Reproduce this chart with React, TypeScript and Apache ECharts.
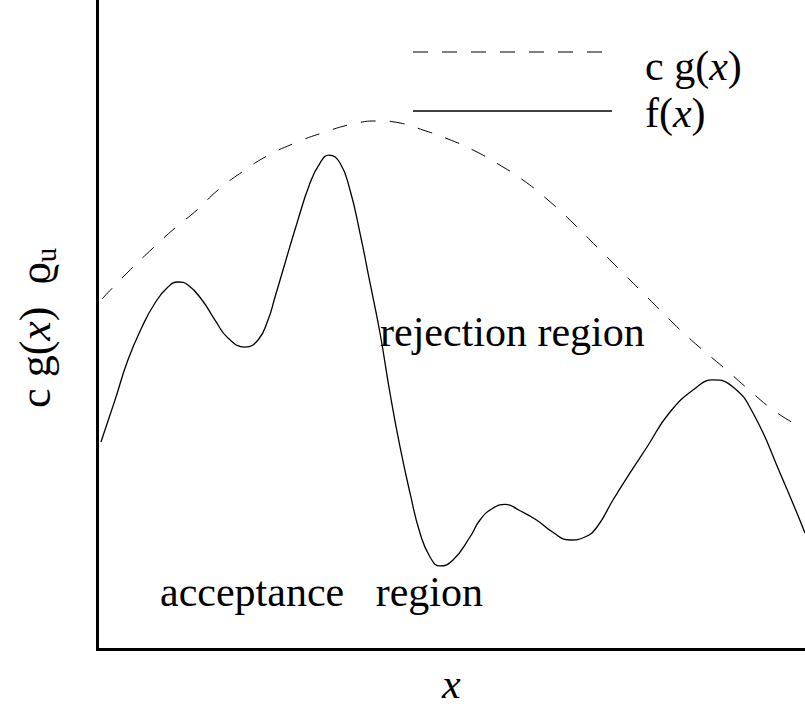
import React, { useEffect, useRef } from 'react';
import * as echarts from 'echarts';

// f(x): target density (solid curve)
const fX = [0.049, 0.247, 0.431, 0.629, 0.813, 0.996, 1.138, 1.279, 1.477, 1.661, 1.845, 2.085, 2.269, 2.41, 2.509, 2.622, 2.82, 3.004, 3.145, 3.272, 3.428, 3.569, 3.71, 3.852, 3.993, 4.134, 4.276, 4.417, 4.558, 4.7, 4.841, 5.025, 5.265, 5.406, 5.583, 5.767, 5.965, 6.205, 6.431, 6.678, 6.89, 7.06, 7.286, 7.527, 7.767, 8.092, 8.473, 8.699, 8.982, 9.265, 9.647, 10.0];
const fY = [3.195, 3.84, 4.46, 4.965, 5.335, 5.58, 5.658, 5.612, 5.381, 5.073, 4.796, 4.657, 4.765, 5.073, 5.427, 5.843, 6.567, 7.182, 7.49, 7.613, 7.49, 7.074, 6.412, 5.643, 4.873, 3.949, 3.118, 2.41, 1.794, 1.424, 1.286, 1.378, 1.732, 1.994, 2.171, 2.233, 2.14, 1.994, 1.809, 1.686, 1.732, 1.886, 2.302, 2.718, 3.118, 3.657, 4.042, 4.15, 4.042, 3.641, 2.718, 1.794];

// c g(x): scaled envelope (dashed curve)
const gX = [0.064, 0.431, 0.784, 1.095, 1.406, 1.703, 2.042, 2.396, 2.792, 3.173, 3.64, 3.965, 4.276, 4.601, 4.954, 5.307, 5.661, 6.014, 6.367, 6.721, 7.074, 7.428, 7.781, 8.134, 8.488, 8.841, 9.194, 9.548, 9.859];
const gY = [5.397, 5.812, 6.181, 6.489, 6.767, 7.074, 7.351, 7.598, 7.798, 7.952, 8.099, 8.137, 8.106, 7.998, 7.86, 7.691, 7.475, 7.228, 6.921, 6.567, 6.181, 5.797, 5.412, 5.027, 4.673, 4.349, 4.011, 3.688, 3.472];

const SERIF = 'Liberation Serif, DejaVu Serif, serif';
const FS = 42;

const richBase = {
  r: { fontFamily: SERIF, fontSize: FS, lineHeight: 48, fill: '#000', color: '#000' },
  i: { fontFamily: SERIF, fontSize: FS, lineHeight: 48, fontStyle: 'italic', fill: '#000', color: '#000' },
};

const richAxis = {
  r: { fontFamily: SERIF, fontSize: 44, lineHeight: 50, color: '#000' },
  i: { fontFamily: SERIF, fontSize: 44, lineHeight: 50, fontStyle: 'italic', color: '#000' },
  s: { fontFamily: SERIF, fontSize: 29, lineHeight: 20, verticalAlign: 'bottom', color: '#000' },
};

export default function App() {
  const ref = useRef<HTMLDivElement>(null);

  useEffect(() => {
    const chart = echarts.init(ref.current!, null, { renderer: 'svg' });
    const axisLine = { show: true, onZero: false, lineStyle: { color: '#000', width: 3, cap: 'square' } };
    chart.setOption({
      animation: false,
      backgroundColor: '#fff',
      textStyle: { fontFamily: SERIF },
      grid: { left: 97.5, top: 0, width: 707.5, height: 649.5 },
      xAxis: {
        type: 'value', min: 0, max: 10,
        axisLine, axisTick: { show: false }, axisLabel: { show: false }, splitLine: { show: false },
        name: 'x', nameLocation: 'middle', nameGap: 13,
        nameTextStyle: { fontFamily: SERIF, fontStyle: 'italic', fontSize: FS, color: '#000' },
      },
      yAxis: {
        type: 'value', min: 0, max: 10,
        axisLine, axisTick: { show: false }, axisLabel: { show: false }, splitLine: { show: false },
        name: '{r|c g(}{i|x}{r|)  ϱ}{s|u}', nameLocation: 'middle', nameRotate: 90, nameGap: 37,
        nameTextStyle: { color: '#000', fontFamily: SERIF, fontSize: 44, padding: [0, 6, 0, 0], rich: richAxis },
      },
      series: [
        {
          type: 'line', name: 'c g(x)', data: gX.map((x, k) => [x, gY[k]]),
          smooth: 0.5, symbol: 'none', showSymbol: false,
          lineStyle: { color: '#000', width: 1, type: [15, 14] },
        },
        {
          type: 'line', name: 'f(x)', data: fX.map((x, k) => [x, fY[k]]),
          smooth: 0.5, symbol: 'none', showSymbol: false,
          lineStyle: { color: '#000', width: 1.3 },
        },
      ],
      graphic: [
        { type: 'line', shape: { x1: 413, y1: 52, x2: 603, y2: 52 }, style: { stroke: '#000', lineWidth: 1, lineDash: [15, 14] } },
        { type: 'line', shape: { x1: 413, y1: 111, x2: 612, y2: 111 }, style: { stroke: '#000', lineWidth: 1.3 } },
        { type: 'text', x: 645, y: 66, style: { text: '{r|c g(}{i|x}{r|)}', rich: richBase, fontFamily: SERIF, fontSize: FS, fill: '#000', align: 'left', verticalAlign: 'middle' } },
        { type: 'text', x: 645, y: 113, style: { text: '{r|f(}{i|x}{r|)}', rich: richBase, fontFamily: SERIF, fontSize: FS, fill: '#000', align: 'left', verticalAlign: 'middle' } },
        { type: 'text', x: 380, y: 332, style: { text: 'rejection region', fontFamily: SERIF, fontSize: FS, fill: '#000', align: 'left', verticalAlign: 'middle' } },
        { type: 'text', x: 160, y: 592, style: { text: 'acceptance   region', fontFamily: SERIF, fontSize: FS, fill: '#000', align: 'left', verticalAlign: 'middle' } },
      ],
    });
    return () => chart.dispose();
  }, []);

  return <div ref={ref} style={{ position: 'fixed', left: 0, top: 0, width: 805, height: 721 }} />;
}
